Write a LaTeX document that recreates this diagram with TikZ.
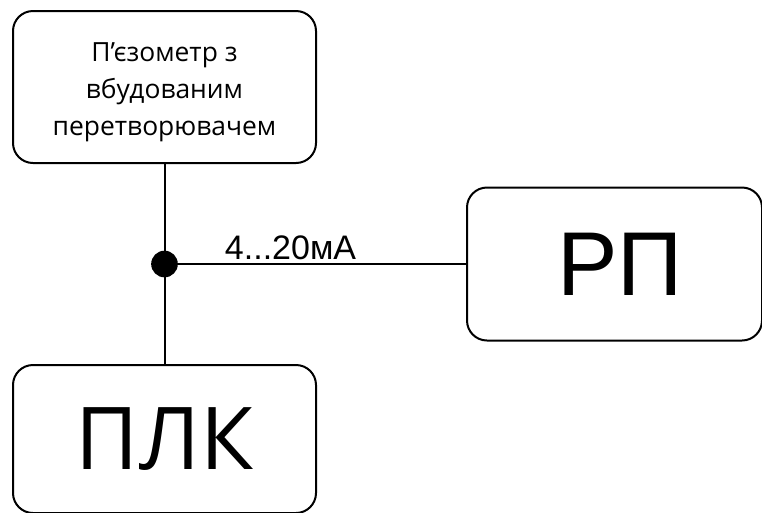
\documentclass[tikz,border=0pt]{standalone}
\usepackage{fontspec}
\setmainfont{Open Sans}
\newfontfamily\arialf{Liberation Sans}
\tikzset{
  blk/.style={draw, line width=1.5pt, rounded corners=15pt, inner sep=0pt, align=center},
  wire/.style={line width=1.5pt},
}
\begin{document}
\begin{tikzpicture}[x=0.75pt,y=-0.75pt]
\useasboundingbox (0,0) rectangle (762,512);
\node[blk, minimum width=227.25pt, minimum height=114pt] (top) at (164.5,87) {};
\node[align=center, inner sep=0pt, font=\fontsize{19.8pt}{27.5pt}\selectfont] (toptxt) at ([yshift=-4pt]top.center) {П’єзометр з\\вбудованим\\перетворювачем};
\node[blk, minimum width=221.25pt, minimum height=114.75pt] (rp) at (614.5,264) {};
\node[font=\arialf\fontsize{68pt}{78pt}\selectfont, inner sep=0pt] (rpt) at ([xshift=4pt]rp.center) {РП};
\node[blk, minimum width=227.25pt, minimum height=111pt, font=\fontsize{65pt}{75pt}\selectfont] (plk) at (164.5,439) {ПЛК};
\coordinate (j) at (top.south |- rp.west);
\draw[wire] (top.south) -- (plk.north);
\draw[wire] (j) -- (rp.west);
\fill (j) circle (10pt);
\node[anchor=base, inner sep=0pt, font=\arialf\fontsize{25.5pt}{28pt}\selectfont] (lbl) at (290.5,259) {4...20мА};
\end{tikzpicture}
\end{document}
